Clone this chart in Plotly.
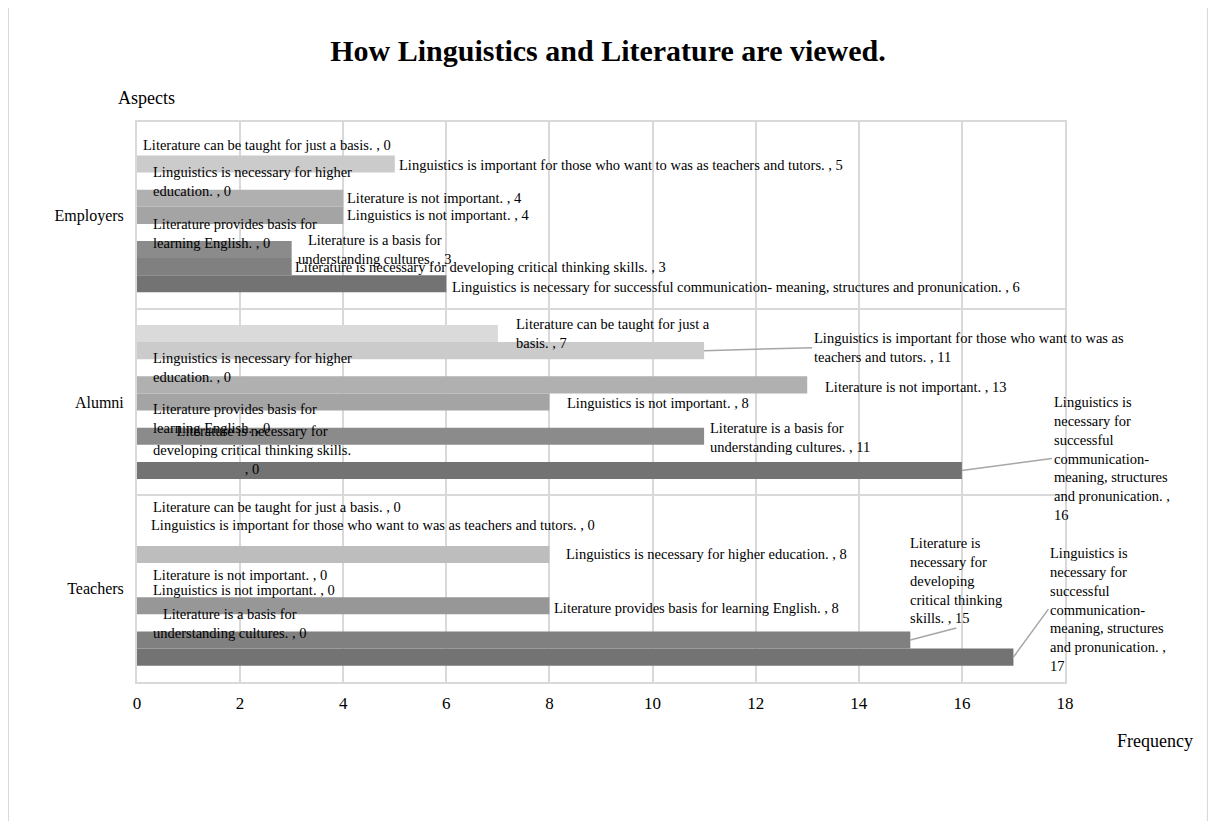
import textwrap
import plotly.graph_objects as go

# Dados
categories = ['Teachers', 'Alumni', 'Employers']

ling_communication = [17, 16, 6]
lit_critical_thinking = [15, 0, 3]
lit_cultures = [0, 11, 3]
lit_english = [8, 0, 0]
ling_not_important = [0, 8, 4]
lit_not_important = [0, 13, 4]
ling_higher_education = [8, 0, 0]
ling_teachers_tutors = [0, 11, 5]
lit_just_basis = [0, 7, 0]

series_names = [
    'Linguistics is necessary for successful communication- meaning, structures and pronunication.',
    'Literature is necessary for developing critical thinking skills.',
    'Literature is a basis for understanding cultures.',
    'Literature provides basis for learning English.',
    'Linguistics is not important.',
    'Literature is not important.',
    'Linguistics is necessary for higher education.',
    'Linguistics is important for those who want to was as teachers and tutors.',
    'Literature can be taught for just a basis.',
]
series_values = [ling_communication, lit_critical_thinking, lit_cultures, lit_english,
                 ling_not_important, lit_not_important, ling_higher_education,
                 ling_teachers_tutors, lit_just_basis]

colors = ['#737373', '#808080', '#8b8b8b', '#979797', '#a4a4a4',
          '#b0b0b0', '#bdbdbd', '#cbcbcb', '#dadada']

x_ticks = [0, 2, 4, 6, 8, 10, 12, 14, 16, 18]

FONT = 'Liberation Serif'
GRID = '#d9d9d9'
BARGAP = 0.175

# Posição dos rótulos: (serie, categoria) -> deslocamentos em pixels, quebra de linha, seta
label_style = {
    # Employers
    (8, 2): dict(dx=4, dy=-2), (7, 2): dict(dx=2, dy=1),
    (6, 2): dict(dx=14, w=35), (5, 2): dict(dx=2), (4, 2): dict(dx=2),
    (3, 2): dict(dx=14, dy=1, w=29), (2, 2): dict(dx=4, w=27, align='center'),
    (1, 2): dict(dx=1), (0, 2): dict(dx=4, dy=3),
    # Alumni
    (8, 1): dict(dx=16, w=35), (7, 1): dict(w=54, arrow=(108, -3)),
    (6, 1): dict(dx=14, w=35), (5, 1): dict(dx=16, dy=2), (4, 1): dict(dx=16, dy=1),
    (3, 1): dict(dx=14, dy=-1, w=29), (2, 1): dict(dx=4, dy=1, w=28),
    (1, 1): dict(dx=14, dy=-3, w=36, align='center'),
    (0, 1): dict(w=20, arrow=(90, -12)),
    # Teachers
    (8, 0): dict(dx=14, dy=-13), (7, 0): dict(dx=12, dy=-12),
    (6, 0): dict(dx=15), (5, 0): dict(dx=14, dy=3), (4, 0): dict(dx=14, dy=1),
    (3, 0): dict(dx=3, dy=2), (2, 0): dict(dx=14, dy=1, w=27, align='center'),
    (1, 0): dict(w=17, arrow=(46, -12), xa='center', ya='bottom'),
    (0, 0): dict(w=20, arrow=(35, -48)),
}

fig = go.Figure()

# Barras agrupadas horizontais
for name, vals, color in zip(series_names, series_values, colors):
    fig.add_trace(go.Bar(y=categories, x=vals, name=name, orientation='h',
                         marker=dict(color=color, line=dict(width=0)),
                         showlegend=False, hoverinfo='x+name'))

# Rótulos de dados (nome da série , valor)
n = len(series_names)
bar_w = (1 - BARGAP) / n
annotations = []
for k, (name, vals) in enumerate(zip(series_names, series_values)):
    offset = -(1 - BARGAP) / 2 + (k + 0.5) * bar_w
    for j, v in enumerate(vals):
        st = label_style.get((k, j), {})
        text = f'{name} , {v}'
        if 'w' in st:
            text = '<br>'.join(textwrap.wrap(text, st['w']))
        ann = dict(x=v, y=j + offset, xref='x', yref='y', text=text,
                   font=dict(family=FONT, size=14.5, color='#000000'),
                   align=st.get('align', 'left'),
                   xanchor=st.get('xa', 'left'), yanchor=st.get('ya', 'middle'))
        if 'arrow' in st:
            ann.update(showarrow=True, arrowhead=0, arrowwidth=1.5, arrowcolor='#a6a6a6',
                       ax=st['arrow'][0], ay=st['arrow'][1])
        else:
            ann.update(showarrow=False, xshift=st.get('dx', 3), yshift=-st.get('dy', 0))
        annotations.append(ann)

# Títulos dos eixos
annotations.append(dict(text='Aspects', xref='paper', yref='paper', x=0.0097, y=1.043,
                        xanchor='center', yanchor='middle', showarrow=False,
                        font=dict(family=FONT, size=18, color='#000000')))
annotations.append(dict(text='Frequency', xref='paper', yref='paper', x=1.097, y=-0.105,
                        xanchor='center', yanchor='middle', showarrow=False,
                        font=dict(family=FONT, size=18, color='#000000')))

fig.update_layout(
    width=1216, height=821,
    margin=dict(l=129, r=159, t=114, b=147),
    paper_bgcolor='white', plot_bgcolor='white',
    barmode='group', bargap=BARGAP, bargroupgap=0,
    font=dict(family=FONT, color='#000000'),
    title=dict(text='<b>How Linguistics and Literature are viewed.</b>',
               x=600 / 1216, xref='container', xanchor='center',
               y=1 - 42 / 821, yanchor='middle',
               font=dict(family=FONT, size=30, color='#000000')),
    annotations=annotations,
    # Moldura externa do gráfico
    shapes=[dict(type='rect', xref='paper', yref='paper', x0=-0.139, x1=1.154,
                 y0=-0.3, y1=1.207, line=dict(color=GRID, width=2), layer='below')],
)

fig.update_xaxes(range=[0, 18], tickvals=x_ticks, showgrid=True, gridcolor=GRID, gridwidth=2,
                 zeroline=False, showline=True, mirror=True, linecolor=GRID, linewidth=2,
                 ticks='', ticklabelstandoff=5, tickfont=dict(family=FONT, size=17))
fig.update_yaxes(type='category', tickson='boundaries', showgrid=True, gridcolor=GRID,
                 gridwidth=2, showline=True, mirror=True, linecolor=GRID, linewidth=2,
                 ticks='', ticklabelstandoff=8, tickfont=dict(family=FONT, size=16))

fig.write_html('out.html')
